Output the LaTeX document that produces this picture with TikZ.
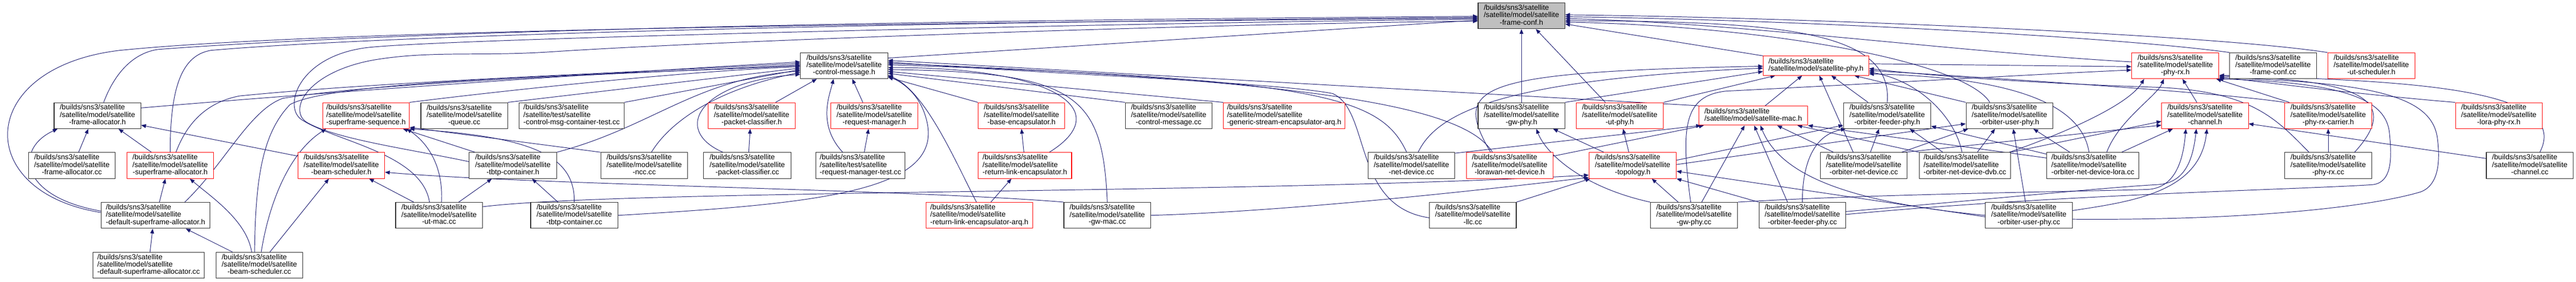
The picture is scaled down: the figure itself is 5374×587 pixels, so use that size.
\documentclass[tikz,border=0pt]{standalone}
\usepackage{fontspec}
\setmainfont{Liberation Sans}
\usetikzlibrary{arrows.meta}
\pgfdeclarelayer{bg}
\pgfsetlayers{bg,main}
\definecolor{eb}{HTML}{191970}
\definecolor{gf}{HTML}{BFBFBF}
\newcommand{\dxthree}[3]{\begin{tabular}{@{}l@{}}#1\\#2\\\multicolumn{1}{@{}c@{}}{#3}\end{tabular}}
\newcommand{\dxm}[1]{\dxthree{/builds/sns3/satellite}{/satellite/model/satellite}{#1}}
\newcommand{\dxt}[1]{\dxthree{/builds/sns3/satellite}{/satellite/test/satellite}{#1}}
\newcommand{\dxtwo}[1]{\begin{tabular}{@{}l@{}}/builds/sns3/satellite\\#1\end{tabular}}
\begin{document}
\begin{tikzpicture}[x=1pt,y=-1pt,
  nb/.style={draw=black!85, line width=1.3pt, fill=white, inner sep=0pt, minimum height=54pt, font=\fontsize{15.2}{15}\selectfont},
  nr/.style={nb, draw=red, line width=1.2pt},
  mw/.style={minimum width=#1},
  edg/.style={draw=eb, line width=1.05pt, -{Triangle[length=10pt,width=8pt]}}]
\begin{pgfonlayer}{bg}
\fill[white] (0,0) rectangle (5374,587);
\end{pgfonlayer}
\useasboundingbox (0,0) rectangle (5374,587);
% row 0
\node[nb,mw=181pt,fill=gf] (F) at (3174,33) {\dxm{-frame-conf.h}};
% row 1
\node[nb,mw=182pt] (CM) at (1761,137) {\dxm{-control-message.h}};
\node[nr,mw=220pt,minimum height=40pt] (PHY) at (3788.5,137) {\dxtwo{/satellite/model/satellite-phy.h}};
\node[nr,mw=182pt] (PRX) at (4538,137) {\dxm{-phy-rx.h}};
\node[nb,mw=181pt] (FCC) at (4742,137) {\dxm{-frame-conf.cc}};
\node[nr,mw=182pt] (UTS) at (4947,137) {\dxm{-ut-scheduler.h}};
% row 2
\node[nb,mw=181pt] (FA) at (203.3,241) {\dxm{-frame-allocator.h}};
\node[nr,mw=181pt] (SS) at (763.5,241) {\dxm{-superframe-sequence.h}};
\node[nb,mw=181pt] (Q) at (968.5,241) {\dxm{-queue.cc}};
\node[nb,mw=219pt] (CMT) at (1192.5,241) {\dxt{-control-msg-container-test.cc}};
\node[nr,mw=181pt] (PC) at (1568,241) {\dxm{-packet-classifier.h}};
\node[nr,mw=181pt] (RM) at (1824,241) {\dxm{-request-manager.h}};
\node[nr,mw=181pt] (BE) at (2131,241) {\dxm{-base-encapsulator.h}};
\node[nb,mw=181pt] (CMC) at (2438,241) {\dxm{-control-message.cc}};
\node[nr,mw=253pt] (GSE) at (2679,241) {\dxm{-generic-stream-encapsulator-arq.h}};
\node[nb,mw=181pt] (GP) at (3174,241) {\dxm{-gw-phy.h}};
\node[nr,mw=182pt] (UP) at (3379,241) {\dxm{-ut-phy.h}};
\node[nr,mw=227pt,minimum height=40pt] (MAC) at (3657.5,241) {\dxtwo{/satellite/model/satellite-mac.h}};
\node[nb,mw=182pt] (OFP) at (3937,241) {\dxm{-orbiter-feeder-phy.h}};
\node[nb,mw=181pt] (OUP) at (4192,241) {\dxm{-orbiter-user-phy.h}};
\node[nr,mw=181pt] (CH) at (4600,241) {\dxm{-channel.h}};
\node[nr,mw=181pt] (PRC) at (4857,241) {\dxm{-phy-rx-carrier.h}};
\node[nr,mw=181pt] (LPR) at (5213,241) {\dxm{-lora-phy-rx.h}};
% row 3
\node[nb,mw=181pt] (FAC) at (150,345) {\dxm{-frame-allocator.cc}};
\node[nr,mw=181pt] (SA) at (355,345) {\dxm{-superframe-allocator.h}};
\node[nr,mw=181pt] (BS) at (712,345) {\dxm{-beam-scheduler.h}};
\node[nb,mw=182pt] (TC) at (1070,345) {\dxm{-tbtp-container.h}};
\node[nb,mw=181pt] (NCC) at (1344,345) {\dxm{-ncc.cc}};
\node[nb,mw=182pt] (PCC) at (1559,345) {\dxm{-packet-classifier.cc}};
\node[nb,mw=186pt] (RMT) at (1795,345) {\dxt{-request-manager-test.cc}};
\node[nr,mw=195pt] (RLE) at (2138,345) {\dxm{-return-link-encapsulator.h}};
\node[nb,mw=181pt] (NDC) at (2944.5,345) {\dxm{-net-device.cc}};
\node[nr,mw=181pt] (LND) at (3149.5,345) {\dxm{-lorawan-net-device.h}};
\node[nr,mw=182pt] (TOP) at (3406,345) {\dxm{-topology.h}};
\node[nb,mw=181pt] (ONDC) at (3888,345) {\dxm{-orbiter-net-device.cc}};
\node[nb,mw=190pt] (ONDD) at (4099,345) {\dxm{-orbiter-net-device-dvb.cc}};
\node[nb,mw=192pt] (ONDL) at (4366,345) {\dxm{-orbiter-net-device-lora.cc}};
\node[nb,mw=181pt] (PRXC) at (4857,345) {\dxm{-phy-rx.cc}};
\node[nb,mw=181pt] (CHC) at (5277.5,345) {\dxm{-channel.cc}};
% row 4
\node[nb,mw=227pt] (DSA) at (324.5,449) {\dxm{-default-superframe-allocator.h}};
\node[nb,mw=181pt] (UMC) at (916,449) {\dxm{-ut-mac.cc}};
\node[nb,mw=182pt] (TCC) at (1198,449) {\dxm{-tbtp-container.cc}};
\node[nr,mw=222pt] (RLEA) at (2043,449) {\dxm{-return-link-encapsulator-arq.h}};
\node[nb,mw=181pt] (GMC) at (2310,449) {\dxm{-gw-mac.cc}};
\node[nb,mw=181pt] (LLC) at (3072.5,449) {\dxm{-llc.cc}};
\node[nb,mw=182pt] (GPC) at (3534,449) {\dxm{-gw-phy.cc}};
\node[nb,mw=181pt] (OFPC) at (3760,449) {\dxm{-orbiter-feeder-phy.cc}};
\node[nb,mw=181pt] (OUPC) at (4232.5,449) {\dxm{-orbiter-user-phy.cc}};
% row 5
\node[nb,mw=232pt] (DSAC) at (310,553) {\dxm{-default-superframe-allocator.cc}};
\node[nb,mw=181pt] (BSC) at (541,553) {\dxm{-beam-scheduler.cc}};

\begin{pgfonlayer}{bg}
% ---- into frame-conf.h
\draw[edg] ([yshift=16pt]CM.east) -- ([yshift=-9pt]F.west);
\draw[edg] ([xshift=13pt]FA.north) .. controls (240,150) and (280,110) .. (330,103) .. controls (700,75) and (1500,45) .. ([yshift=-1pt]F.west);
\draw[edg] (SA.north) .. controls (355,180) and (380,115) .. (440,105) .. controls (700,82) and (1500,50) .. ([yshift=-3pt]F.west);
\draw[edg] ([yshift=6pt]DSA.west) .. controls (-60,400) and (-50,140) .. (250,105) .. controls (600,70) and (1500,50) .. ([yshift=-5pt]F.west);
\draw[edg] ([xshift=-20pt]UMC.north) .. controls (880,320) and (700,295) .. (630,250) .. controls (590,225) and (620,120) .. (760,100) .. controls (900,80) and (2500,45) .. ([yshift=-7pt]F.west);
\draw[edg] ([yshift=8pt]TC.west) .. controls (850,310) and (700,290) .. (640,255) .. controls (600,230) and (640,150) .. (780,125) .. controls (900,105) and (1000,118) .. (1150,108) .. controls (1500,85) and (2500,50) .. ([yshift=-11pt]F.west);
\draw[edg] (GP.north) -- (F.south);
\draw[edg] ([xshift=-30pt]UP.north) -- ([xshift=30pt]F.south);
\draw[edg] (PHY.north west) -- ([yshift=-17pt]F.east);
\draw[edg] ([yshift=8pt]PRX.west) .. controls (4100,110) and (3600,45) .. ([yshift=-6pt]F.east);
\draw[edg] (FCC.north west) .. controls (4400,75) and (3700,40) .. ([yshift=-2pt]F.east);
\draw[edg] (UTS.north west) .. controls (4600,70) and (3700,35) .. ([yshift=2pt]F.east);
\draw[edg] (OFP.north) .. controls (3950,60) and (3700,45) .. ([yshift=-10pt]F.east);
\draw[edg] ([xshift=-41pt]OUP.north) .. controls (4100,130) and (3700,55) .. ([yshift=-13pt]F.east);
% ---- into control-message.h (left)
\draw[edg] ([yshift=16pt]FA.east) .. controls (700,190) and (1300,150) .. ([yshift=8pt]CM.west);
\draw[edg] ([xshift=12pt]SA.north) .. controls (385,270) and (420,215) .. (500,200) .. controls (800,170) and (1300,152) .. ([yshift=5pt]CM.west);
\draw[edg] ([xshift=61pt]DSA.north) .. controls (470,340) and (520,230) .. (590,205) .. controls (800,170) and (1300,155) .. ([yshift=2pt]CM.west);
\draw[edg] ([xshift=-10pt]BSC.north) .. controls (533,380) and (545,280) .. (605,218) .. controls (700,165) and (1300,155) .. (CM.west);
\draw[edg] (SS.north east) .. controls (1000,195) and (1400,150) .. ([yshift=-2pt]CM.west);
\draw[edg] (Q.north east) -- ([yshift=-5pt]CM.west);
\draw[edg] (CMT.north east) -- ([yshift=-8pt]CM.west);
\draw[edg] (TC.north east) .. controls (1360,265) and (1450,165) .. ([yshift=-11pt]CM.west);
\draw[edg] ([xshift=15pt]NCC.north) .. controls (1400,250) and (1500,185) .. ([yshift=-14pt]CM.west);
\draw[edg] ([xshift=-51pt]PCC.north) .. controls (1400,270) and (1460,170) .. ([yshift=-18pt]CM.west);
% bottom
\draw[edg] ([xshift=50pt]PC.north) -- ([xshift=-57pt]CM.south);
\draw[edg] ([xshift=-37pt]RMT.north) .. controls (1705,260) and (1730,200) .. ([xshift=-22pt]CM.south);
\draw[edg] ([xshift=-24pt]RM.north) -- ([xshift=17pt]CM.south);
% right
\draw[edg] (BE.north west) -- ([yshift=-24pt]CM.east);
\draw[edg] (CMC.north west) -- ([yshift=-16pt]CM.east);
\draw[edg] (GSE.north west) -- ([yshift=-12pt]CM.east);
\draw[edg] ([xshift=51pt]RLE.north) .. controls (2330,230) and (2200,140) .. ([yshift=-4pt]CM.east);
\draw[edg] ([xshift=-6pt]RLEA.north) .. controls (1990,330) and (1930,190) .. ([yshift=-20pt]CM.east);
\draw[edg] (GMC.north) .. controls (2300,200) and (2250,150) .. ([yshift=-8pt]CM.east);
\draw[edg] ([xshift=-10pt]NDC.north) .. controls (2880,200) and (2750,165) .. ([yshift=2pt]CM.east);
\draw[edg] ([xshift=-36pt]LND.north) .. controls (3060,230) and (2800,170) .. ([yshift=5pt]CM.east);
\draw[edg] ([yshift=-5pt]LLC.west) .. controls (2820,430) and (2860,230) .. (2780,195) .. controls (2650,170) and (2100,150) .. ([yshift=8pt]CM.east);
\draw[edg] (MAC.north west) -- ([yshift=11pt]CM.east);
\draw[edg] (TCC.east) .. controls (1700,425) and (1960,400) .. (1935,260) .. controls (1925,205) and (1890,175) .. ([yshift=-22pt]CM.east);
% ---- frame-allocator.h
\draw[edg] ([xshift=14pt]FAC.north) -- ([xshift=-19pt]FA.south);
\draw[edg] ([xshift=-39pt]SA.north) -- ([xshift=44pt]FA.south);
\draw[edg] ([yshift=9pt]DSA.west) .. controls (40,410) and (30,310) .. ([xshift=8pt]FA.south west);
\draw[edg] ([yshift=-8pt]BS.north west) -- ([yshift=-20pt]FA.east);
% ---- superframe-allocator.h
\draw[edg] ([xshift=8pt]DSA.north) -- ([xshift=-10pt]SA.south);
\draw[edg] ([xshift=-16pt]BSC.north) .. controls (515,460) and (440,410) .. ([xshift=41pt]SA.south);
% ---- default-superframe-allocator.h
\draw[edg] ([xshift=3pt]DSAC.north) -- ([xshift=-6pt]DSA.south);
\draw[edg] ([xshift=-56pt]BSC.north) -- ([xshift=63pt]DSA.south);
% ---- beam-scheduler.h
\draw[edg] ([xshift=22pt]BSC.north) -- ([xshift=-26pt]BS.south);
\draw[edg] ([xshift=-53pt]UMC.north) -- ([xshift=58pt]BS.south);
\draw[edg] (GMC.north west) .. controls (1900,395) and (1100,385) .. ([yshift=-14pt]BS.east);
% ---- superframe-sequence.h
\draw[edg] ([xshift=4pt]BSC.north) .. controls (560,430) and (600,320) .. ([xshift=8pt]SS.south west);
\draw[edg] ([xshift=-79pt]TC.north) -- ([xshift=-14pt]SS.south east);
\draw[edg] ([xshift=5pt]UMC.north) .. controls (925,350) and (895,300) .. ([xshift=-6pt]SS.south east);
\draw[edg] (TCC.north) .. controls (1200,320) and (1100,285) .. (SS.south east);
\draw[edg] (NCC.north west) -- ([yshift=3pt]SS.south east);
% ---- tbtp-container.h
\draw[edg] ([xshift=41pt]UMC.north) -- ([xshift=-44pt]TC.south);
\draw[edg] ([xshift=-34pt]TCC.north) -- ([xshift=40pt]TC.south);
% ---- short ones
\draw[edg] ([xshift=3pt]PCC.north) -- ([xshift=-3pt]PC.south);
\draw[edg] ([xshift=8pt]RMT.north) -- ([xshift=-12pt]RM.south);
\draw[edg] ([xshift=-2pt]RLE.north) -- (BE.south);
\draw[edg] ([xshift=24pt]RLEA.north) -- ([xshift=-28pt]RLE.south);
% ---- topology.h
\draw[edg] ([yshift=18pt]UMC.east) .. controls (1300,395) and (2600,405) .. ([yshift=-20pt]TOP.west);
\draw[edg] (GMC.east) .. controls (2700,440) and (3100,395) .. ([yshift=-25pt]TOP.west);
\draw[edg] (LLC.north east) -- ([xshift=3pt]TOP.south west);
\draw[edg] ([xshift=-33pt]GPC.north) -- ([xshift=40pt]TOP.south);
\draw[edg] (OFPC.north west) -- (TOP.south east);
\draw[edg] ([yshift=-3pt]OUPC.west) -- ([yshift=-12pt]TOP.east);
% ---- gw-phy.h / ut-phy.h
\draw[edg] ([xshift=-60pt]TOP.north) -- ([xshift=66pt]GP.south);
\draw[edg] (GPC.north west) .. controls (3300,390) and (3225,320) .. ([xshift=31pt]GP.south);
\draw[edg] ([xshift=-8pt]TOP.north) -- ([xshift=7pt]UP.south);
% ---- satellite-mac.h
\draw[edg] ([yshift=-2pt]NDC.north east) -- ([xshift=5pt]MAC.south west);
\draw[edg] ([yshift=-8pt]LND.north east) -- ([xshift=11pt]MAC.south west);
\draw[edg] ([xshift=16pt]GPC.north) -- ([xshift=-18pt]MAC.south);
\draw[edg] ([xshift=-31pt]OFPC.north) -- ([xshift=2pt]MAC.south);
\draw[edg] (OUPC.west) .. controls (3900,425) and (3720,380) .. ([xshift=15pt]MAC.south);
\draw[edg] ([xshift=28pt]ONDC.north west) -- ([xshift=50pt]MAC.south);
\draw[edg] (ONDD.north west) -- ([xshift=-22pt]MAC.south east);
\draw[edg] ([yshift=-12pt]ONDL.north west) -- (MAC.south east);
% ---- satellite-phy.h
\draw[edg] ([xshift=14pt]NDC.north) .. controls (3000,230) and (3150,165) .. ([yshift=-5pt]PHY.west);
\draw[edg] ([xshift=-40pt]LND.north) .. controls (3030,180) and (3070,150) .. ([yshift=-1pt]PHY.west);
\draw[edg] (GP.north east) -- ([yshift=-12pt]PHY.west);
\draw[edg] (UP.north east) -- ([xshift=-85pt]PHY.south);
\draw[edg] ([xshift=25pt]MAC.north) -- ([xshift=-29pt]PHY.south);
\draw[edg] ([xshift=-22pt]ONDC.north) -- ([xshift=7pt]PHY.south);
\draw[edg] ([xshift=-40pt]OFP.north) -- ([xshift=32pt]PHY.south);
\draw[edg] (OUP.north west) -- ([xshift=80pt]PHY.south);
\draw[edg] ([xshift=-6pt]ONDD.north) .. controls (4080,250) and (4010,170) .. ([yshift=-13pt]PHY.east);
\draw[edg] ([xshift=-8pt]ONDL.north) .. controls (4340,200) and (4150,160) .. ([yshift=-17pt]PHY.east);
\draw[edg] ([xshift=-40pt]PRXC.north) .. controls (4750,250) and (4700,190) .. (4500,182) .. controls (4200,172) and (4000,155) .. ([yshift=-6pt]PHY.east);
\draw[edg] (PRC.north west) .. controls (4650,195) and (4200,165) .. ([yshift=-10pt]PHY.east);
% ---- satellite-phy-rx.h
\draw[edg] ([yshift=4pt]PHY.east) -- ([yshift=-2pt]PRX.west);
\draw[edg] ([xshift=-7pt]GPC.north) .. controls (3505,260) and (3515,200) .. (3600,190) .. controls (3900,175) and (4300,152) .. ([yshift=-9pt]PRX.west);
\draw[edg] ([xshift=-3pt]ONDD.north east) .. controls (4300,280) and (4440,220) .. ([xshift=-65pt]PRX.south);
\draw[edg] ([xshift=29pt]ONDL.north) .. controls (4420,250) and (4500,200) .. ([xshift=-24pt]PRX.south);
\draw[edg] ([xshift=-17pt]CH.north) -- ([xshift=15pt]PRX.south);
\draw[edg] ([xshift=10pt]PRC.north west) -- ([xshift=-6pt]PRX.south east);
\draw[edg] (LPR.north west) .. controls (4900,195) and (4700,168) .. ([yshift=-24pt]PRX.east);
\draw[edg] ([xshift=55pt]PRXC.north) .. controls (5020,200) and (4900,165) .. ([yshift=-22pt]PRX.east);
\draw[edg] ([xshift=21pt]CHC.north) .. controls (5370,180) and (5000,168) .. ([yshift=-20pt]PRX.east);
\draw[edg] ([yshift=2pt]OFPC.east) .. controls (4300,405) and (4800,395) .. (4950,385) .. controls (4990,380) and (4990,330) .. (4985,280) .. controls (4980,210) and (4900,172) .. ([xshift=-2pt]PRX.south east);
\draw[edg] ([yshift=-8pt]OUPC.east) .. controls (4700,460) and (4950,430) .. (5050,400) .. controls (5090,385) and (5090,330) .. (5085,290) .. controls (5075,200) and (4950,172) .. ([yshift=-25pt]PRX.east);
% ---- satellite-channel.h
\draw[edg] ([xshift=-5pt]ONDC.north east) -- ([yshift=-20pt]CH.west);
\draw[edg] (ONDD.north east) -- ([yshift=-12pt]CH.west);
\draw[edg] ([xshift=60pt]ONDL.north) -- ([xshift=-67pt]CH.south);
\draw[edg] (GPC.north east) .. controls (3900,405) and (4300,400) .. (4480,395) .. controls (4540,392) and (4555,330) .. ([xshift=-40pt]CH.south);
\draw[edg] ([yshift=8pt]OFPC.east) .. controls (4100,420) and (4400,390) .. (4500,385) .. controls (4560,382) and (4575,330) .. ([xshift=-18pt]CH.south);
\draw[edg] ([yshift=10pt]OUPC.east) .. controls (4450,420) and (4590,400) .. ([xshift=4pt]CH.south);
\draw[edg] ([yshift=-13pt]CHC.north west) -- ([yshift=-17pt]CH.east);
% ---- phy-rx-carrier.h
\draw[edg] (PRXC.north) -- (PRC.south);
% ---- orbiter-feeder-phy.h
\draw[edg] ([yshift=11pt]TOP.east) -- ([yshift=-20pt]OFP.west);
\draw[edg] ([xshift=14pt]ONDC.north) -- ([xshift=-17pt]OFP.south);
\draw[edg] ([xshift=-46pt]ONDD.north) -- ([xshift=47pt]OFP.south);
\draw[edg] ([yshift=-4pt]ONDL.north west) -- ([yshift=-22pt]OFP.east);
\draw[edg] (OFPC.north) .. controls (3760,330) and (3790,280) .. ([xshift=5pt]OFP.south west);
% ---- orbiter-user-phy.h
\draw[edg] ([yshift=2pt]TOP.east) -- ([yshift=-17pt]OUP.west);
\draw[edg] ([xshift=-12pt]ONDC.north east) -- ([xshift=5pt]OUP.south west);
\draw[edg] ([xshift=26pt]ONDD.north) -- ([xshift=-30pt]OUP.south);
\draw[edg] ([xshift=-48pt]ONDL.north) -- ([xshift=50pt]OUP.south);
\draw[edg] ([xshift=-7pt]OUPC.north) -- ([xshift=8pt]OUP.south);
\end{pgfonlayer}
\end{tikzpicture}
\end{document}
